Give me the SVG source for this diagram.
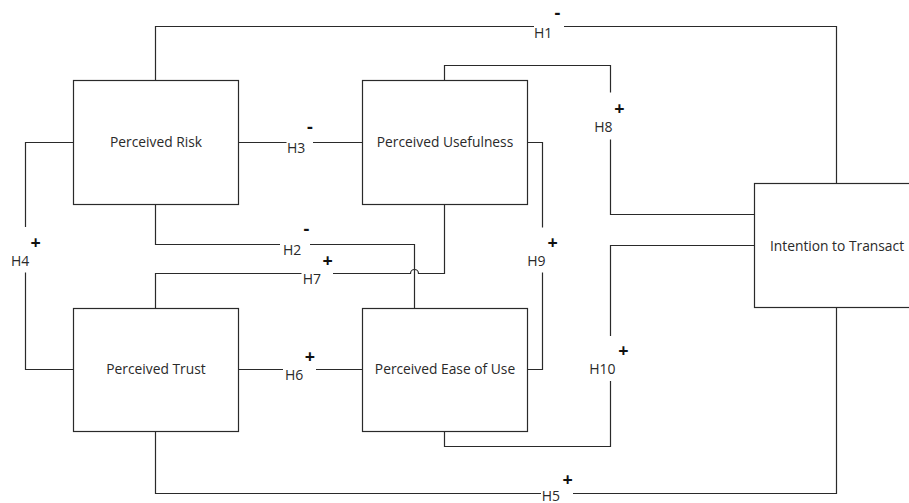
<svg xmlns="http://www.w3.org/2000/svg" width="909" height="503" viewBox="0 0 909 503">
<style>
.box{fill:#fff;stroke:#2a2a2a;stroke-width:1.2}
.lbl{font-family:"Open Sans","Liberation Sans",sans-serif;font-size:13.8px;fill:#2a2a2a;text-anchor:middle}
.h{font-family:"Open Sans","Liberation Sans",sans-serif;font-size:14px;fill:#2a2a2a}
.s{font-family:"Open Sans","Liberation Sans",sans-serif;font-size:18px;font-weight:bold;fill:#111;text-anchor:middle}
.c{fill:none;stroke:#2a2a2a;stroke-width:1.2}
</style>
<rect width="909" height="503" fill="#fff"/>
<g id="connectors">
<path class="c" d="M155.5 80.5 V26.5 H534 M564 26.5 H836.5 V183.5"/>
<path class="c" d="M155.5 204.5 V244.5 H280 M310 244.5 H414.5 V308.5"/>
<path class="c" d="M238.5 142.5 H286.5 M313 142.5 H362.5"/>
<path class="c" d="M73.5 142.5 H25.5 V227 M25.5 272.5 V369.5 H73.5"/>
<path class="c" d="M155.5 431.5 V493.5 H541 M573 493.5 H836.5 V307.5"/>
<path class="c" d="M238.5 369.5 H283 M316 369.5 H362.5"/>
<path class="c" d="M155.5 308.5 V273.5 H301.5 M333 273.5 H410.5 A4 4 0 0 1 418.5 273.5 H444.5 V204.5"/>
<path class="c" d="M444.5 80.5 V65.5 H610.5 V92.5 M610.5 139.5 V214.5 H754.5"/>
<path class="c" d="M527.5 142.5 H542.5 V227.5 M542.5 272.5 V369.5 H527.5"/>
<path class="c" d="M754.5 245.5 H610.5 V336 M610.5 381 V446.5 H444.5 V431.5"/>
<text class="h" x="534" y="37.5">H1</text><text class="s" x="557.5" y="19">-</text>
<text class="h" x="283" y="254.5">H2</text><text class="s" x="306.5" y="235">-</text>
<text class="h" x="287" y="152.7">H3</text><text class="s" x="310" y="133">-</text>
<text class="h" x="11" y="265.7">H4</text><text class="s" x="35.7" y="248.7">+</text>
<text class="h" x="541.7" y="500.5">H5</text><text class="s" x="567.7" y="485.7">+</text>
<text class="h" x="285" y="379.5">H6</text><text class="s" x="310" y="363.4">+</text>
<text class="h" x="302.7" y="283.5">H7</text><text class="s" x="327.7" y="267.1">+</text>
<text class="h" x="594.3" y="131.7">H8</text><text class="s" x="619.3" y="114.7">+</text>
<text class="h" x="527.3" y="265.7">H9</text><text class="s" x="552.7" y="248.7">+</text>
<text class="h" x="589.3" y="374.3">H10</text><text class="s" x="623.3" y="357.1">+</text>
</g>
<g id="perceived-risk"><rect class="box" x="73.5" y="80.5" width="165" height="124"/><text class="lbl" x="156" y="146.7">Perceived Risk</text></g>
<g id="perceived-usefulness"><rect class="box" x="362.5" y="80.5" width="165" height="124"/><text class="lbl" x="445" y="146.7">Perceived Usefulness</text></g>
<g id="perceived-trust"><rect class="box" x="73.5" y="308.5" width="165" height="123"/><text class="lbl" x="156" y="374">Perceived Trust</text></g>
<g id="perceived-ease-of-use"><rect class="box" x="362.5" y="308.5" width="165" height="123"/><text class="lbl" x="445" y="374">Perceived Ease of Use</text></g>
<g id="intention-to-transact"><rect class="box" x="754.5" y="183.5" width="165" height="124"/><text class="lbl" x="837" y="250.5">Intention to Transact</text></g>
</svg>
